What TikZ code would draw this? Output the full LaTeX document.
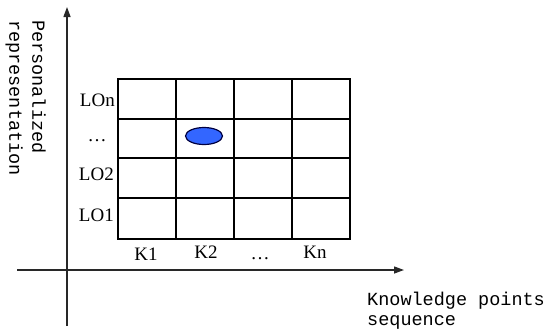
\documentclass[tikz,border=0pt]{standalone}
\usepackage{fontspec}
\setmainfont{Liberation Serif}
\setmonofont{Liberation Mono}
\usetikzlibrary{arrows.meta,shapes.geometric}
\definecolor{dotblue}{RGB}{51,102,255}
\definecolor{axisgray}{RGB}{40,40,40}
\begin{document}
\begin{tikzpicture}[x=1bp,y=-1bp,
  axisline/.style={line width=1.3bp,draw=axisgray,-{Triangle[length=10bp,width=7bp]}},
  gridline/.style={line width=1.1bp,draw=black},
  cellnum/.style={font=\fontsize{19bp}{21bp}\selectfont,inner sep=0pt},
  axislabel/.style={font=\ttfamily\fontsize{18.5bp}{20bp}\selectfont,inner sep=0pt,align=left}]
\useasboundingbox (0,0) rectangle (547,329);
% axes
\coordinate (yb) at (67,326);
\coordinate (yt) at (67,7);
\coordinate (xl) at (17,270);
\coordinate (xr) at (404,270);
\draw[axisline] (yb) -- (yt);
\draw[axisline] (xl) -- (xr);
% grid
\draw[gridline] (118,79) rectangle (350,239);
\foreach \x in {176,234,292} \draw[gridline] (\x,79) -- (\x,239);
\foreach \y in {119,158,198} \draw[gridline] (118,\y) -- (350,\y);
% ellipse
\node[draw=black!75!blue,line width=1.2bp,fill=dotblue,ellipse,minimum width=37bp,minimum height=17bp,inner sep=0pt] (dot) at (204,136) {};
% row labels
\node[cellnum,anchor=east] (lon) at (115,100) {LOn};
\node[cellnum,anchor=base] (ldots) at (97,141) {\ldots};
\node[cellnum,anchor=east] (lo2) at (114,174) {LO2};
\node[cellnum,anchor=east] (lo1) at (114,215) {LO1};
% column labels
\node[cellnum] (k1) at (146,254) {K1};
\node[cellnum] (k2) at (206,252) {K2};
\node[cellnum,anchor=base] (kd) at (260,259) {\ldots};
\node[cellnum] (kn) at (315,252) {Kn};
% axis labels
\node[axislabel,anchor=north west] (xlab) at (367,292) {Knowledge points\\sequence};
\node[axislabel,font=\ttfamily\fontsize{18.5bp}{23bp}\selectfont,rotate=-90,anchor=north west] (ylab) at (46,20) {Personalized\\representation};
\end{tikzpicture}
\end{document}
